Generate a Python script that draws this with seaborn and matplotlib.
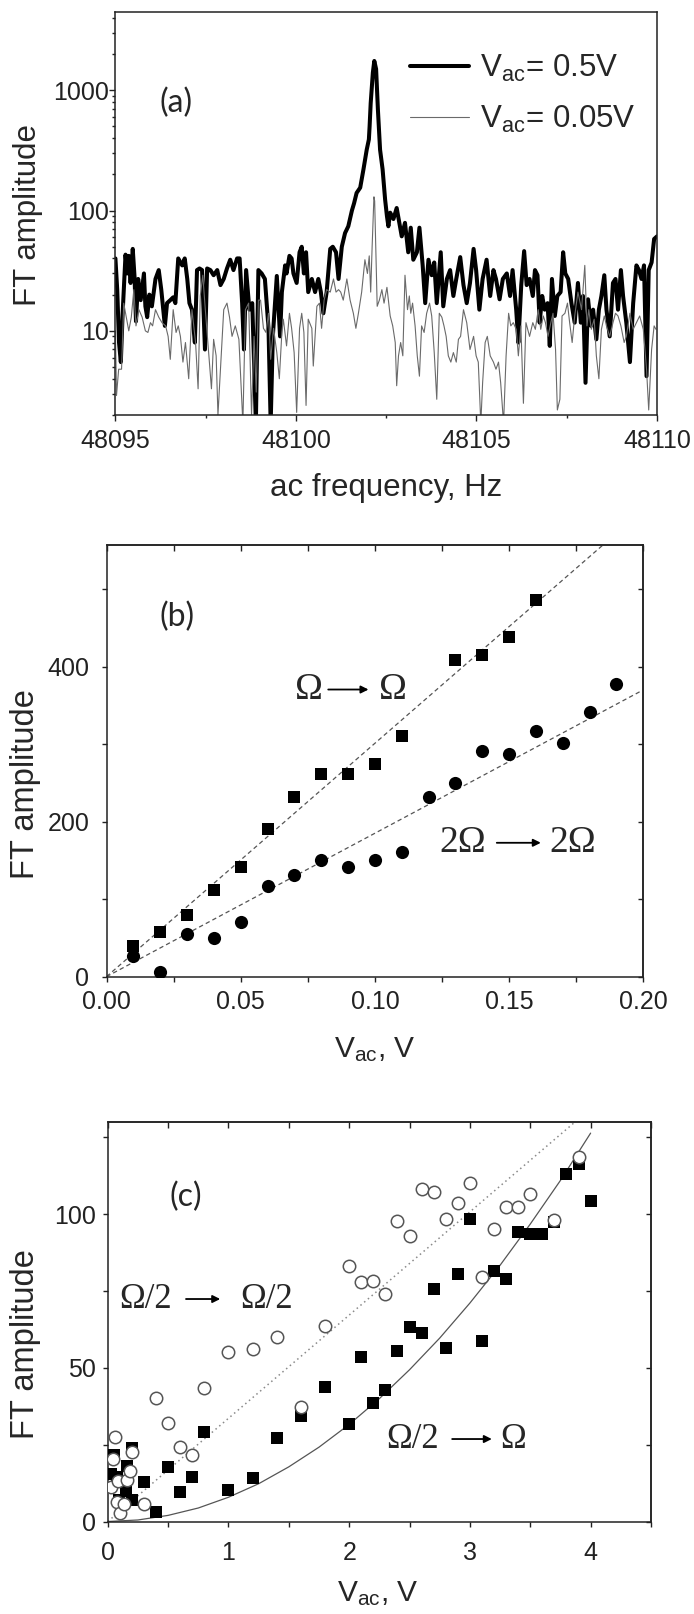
import matplotlib
matplotlib.use("Agg")
import matplotlib.pyplot as plt
import matplotlib.ticker as mticker
import numpy as np
import pandas as pd
import seaborn as sns

# ---------------- panel (a): FT spectra ----------------
freq_05 = [
    48095.00, 48095.05, 48095.10, 48095.15, 48095.20, 48095.28, 48095.33, 48095.37, 48095.42, 48095.48,
    48095.53, 48095.57, 48095.63, 48095.70, 48095.79, 48095.83, 48095.88, 48095.94, 48096.01, 48096.11,
    48096.20, 48096.27, 48096.37, 48096.43, 48096.52, 48096.60, 48096.66, 48096.74, 48096.85, 48096.92,
    48096.99, 48097.05, 48097.12, 48097.20, 48097.26, 48097.33, 48097.40, 48097.48, 48097.54, 48097.63,
    48097.72, 48097.82, 48097.91, 48098.00, 48098.09, 48098.18, 48098.27, 48098.37, 48098.44, 48098.51,
    48098.56, 48098.62, 48098.71, 48098.79, 48098.89, 48098.96, 48099.05, 48099.14, 48099.24, 48099.30,
    48099.36, 48099.47, 48099.56, 48099.61, 48099.70, 48099.74, 48099.82, 48099.88, 48099.93, 48100.02,
    48100.10, 48100.16, 48100.22, 48100.28, 48100.34, 48100.44, 48100.53, 48100.62, 48100.69, 48100.76,
    48100.85, 48100.95, 48101.02, 48101.11, 48101.18, 48101.27, 48101.36, 48101.45, 48101.55, 48101.61,
    48101.68, 48101.78, 48101.87, 48101.96, 48102.02, 48102.04, 48102.07, 48102.13, 48102.17, 48102.22,
    48102.27, 48102.33, 48102.40, 48102.47, 48102.52, 48102.56, 48102.61, 48102.70, 48102.79, 48102.87,
    48102.93, 48103.02, 48103.11, 48103.18, 48103.25, 48103.35, 48103.42, 48103.51, 48103.58, 48103.67,
    48103.76, 48103.83, 48103.90, 48104.01, 48104.08, 48104.18, 48104.27, 48104.36, 48104.44, 48104.55,
    48104.64, 48104.73, 48104.82, 48104.92, 48104.99, 48105.08, 48105.17, 48105.28, 48105.38, 48105.47,
    48105.54, 48105.64, 48105.73, 48105.84, 48105.93, 48106.00, 48106.10, 48106.16, 48106.24, 48106.32,
    48106.39, 48106.47, 48106.56, 48106.62, 48106.69, 48106.75, 48106.82, 48106.89, 48106.97, 48107.03,
    48107.09, 48107.17, 48107.24, 48107.33, 48107.40, 48107.46, 48107.54, 48107.63, 48107.72, 48107.81,
    48107.89, 48107.95, 48108.02, 48108.09, 48108.17, 48108.23, 48108.32, 48108.39, 48108.46, 48108.54,
    48108.60, 48108.69, 48108.78, 48108.85, 48108.92, 48109.00, 48109.06, 48109.15, 48109.25, 48109.34,
    48109.43, 48109.50, 48109.57, 48109.64, 48109.71, 48109.77, 48109.85, 48109.92, 48110.00,
]
amp_05 = [
    40, 22, 8, 5.5, 14, 43, 30, 42, 25, 48,
    28, 12, 27, 18, 30, 16, 13, 20, 16, 27,
    32, 22, 11, 17, 18, 19, 17, 40, 35, 40,
    27, 17, 15, 8, 32, 33, 32, 7, 33, 32,
    29, 32, 24, 27, 33, 39, 32, 40, 40, 17,
    7, 32, 15, 17, 1.7, 32, 30, 27, 10.5, 1.7,
    9, 28.6, 9, 21, 35, 30, 42, 40, 30, 25,
    45, 50, 30, 45, 21, 27, 21, 27, 21, 14,
    21, 48, 50, 45, 27, 50, 65, 74, 100, 115,
    140, 155, 220, 320, 390, 500, 780, 1400, 1750, 1500,
    690, 320, 220, 123, 90, 74, 96, 85, 105, 77,
    61, 79, 45, 72, 39, 45, 72, 35, 17, 39,
    29, 37, 17, 45, 16, 27, 32, 19.5, 27, 41,
    24, 17, 25, 48, 32, 15, 27, 39, 19.5, 32,
    27, 18.3, 27, 30, 19.5, 32, 15, 8, 24, 46,
    24, 27, 19.5, 32, 29, 11.7, 19.5, 15, 17, 7.5,
    27, 13.3, 19.5, 21, 45, 30, 27, 17, 11.7, 25,
    11.7, 19.5, 3.7, 18.3, 11, 15, 8.5, 15, 19.5, 29,
    15, 9, 25, 27, 15, 32, 19.5, 11.7, 5.5, 17,
    35, 32, 27, 35, 4.2, 32, 37, 58, 61,
]
freq_005 = [
    48095.00, 48095.03, 48095.09, 48095.17, 48095.23, 48095.30, 48095.37, 48095.44, 48095.51, 48095.57,
    48095.65, 48095.74, 48095.83, 48095.90, 48095.97, 48096.03, 48096.11, 48096.20, 48096.29, 48096.39,
    48096.46, 48096.52, 48096.60, 48096.68, 48096.74, 48096.80, 48096.87, 48096.94, 48097.03, 48097.12,
    48097.22, 48097.29, 48097.35, 48097.42, 48097.49, 48097.59, 48097.66, 48097.72, 48097.79, 48097.84,
    48097.91, 48098.00, 48098.09, 48098.16, 48098.23, 48098.32, 48098.42, 48098.53, 48098.60, 48098.69,
    48098.77, 48098.84, 48098.90, 48098.96, 48099.02, 48099.10, 48099.17, 48099.24, 48099.30, 48099.38,
    48099.47, 48099.54, 48099.61, 48099.65, 48099.74, 48099.82, 48099.88, 48099.95, 48100.02, 48100.10,
    48100.16, 48100.22, 48100.28, 48100.34, 48100.44, 48100.48, 48100.58, 48100.65, 48100.71, 48100.78,
    48100.85, 48100.95, 48101.04, 48101.11, 48101.18, 48101.24, 48101.31, 48101.41, 48101.50, 48101.59,
    48101.66, 48101.73, 48101.82, 48101.91, 48101.98, 48102.03, 48102.07, 48102.11, 48102.16, 48102.18,
    48102.21, 48102.25, 48102.31, 48102.38, 48102.44, 48102.52, 48102.61, 48102.68, 48102.75, 48102.79,
    48102.84, 48102.90, 48102.96, 48103.02, 48103.09, 48103.14, 48103.18, 48103.23, 48103.30, 48103.36,
    48103.42, 48103.48, 48103.55, 48103.62, 48103.70, 48103.76, 48103.83, 48103.90, 48103.97, 48104.04,
    48104.10, 48104.16, 48104.22, 48104.29, 48104.36, 48104.44, 48104.50, 48104.56, 48104.64, 48104.73,
    48104.82, 48104.92, 48104.99, 48105.05, 48105.12, 48105.17, 48105.24, 48105.30, 48105.38, 48105.47,
    48105.54, 48105.61, 48105.67, 48105.75, 48105.82, 48105.89, 48105.95, 48106.02, 48106.10, 48106.16,
    48106.23, 48106.30, 48106.37, 48106.47, 48106.56, 48106.63, 48106.71, 48106.78, 48106.85, 48106.91,
    48106.98, 48107.06, 48107.12, 48107.19, 48107.24, 48107.31, 48107.37, 48107.45, 48107.52, 48107.58,
    48107.65, 48107.72, 48107.81, 48107.91, 48108.00, 48108.06, 48108.11, 48108.18, 48108.26, 48108.32,
    48108.39, 48108.46, 48108.54, 48108.60, 48108.69, 48108.78, 48108.85, 48108.92, 48109.00, 48109.09,
    48109.15, 48109.25, 48109.34, 48109.43, 48109.52, 48109.62, 48109.71, 48109.77, 48109.85, 48109.92,
    48109.97,
]
amp_005 = [
    10, 2.9, 4.8, 4.8, 17, 13, 10, 13, 22, 11,
    15, 13, 10, 9.7, 11.7, 11, 15, 13, 11.7, 11,
    9, 5.8, 15, 9.7, 11, 9, 5.5, 8, 4, 15,
    8, 3.3, 19.5, 29, 15, 6.2, 3.3, 8.5, 6.2, 2.0,
    4.8, 15, 17, 13, 9, 11, 8.5, 1.7, 15, 17,
    2.0, 9, 3.1, 18, 18, 10.5, 9.7, 14, 5.8, 10.5,
    6.6, 4, 9.7, 12.5, 7.5, 14, 10.5, 6.6, 2.1, 10.5,
    14, 9.7, 2.4, 12.5, 10.5, 5.1, 16, 17, 10.5, 18,
    22, 21, 27, 21, 22, 21, 18, 27, 18, 14,
    10.5, 14, 21, 39, 30, 42, 21, 50, 130, 120,
    50, 16, 18, 22, 17, 23, 13.3, 11, 8, 3.5,
    6.2, 8, 6.2, 29, 15, 19.5, 14, 17, 11, 6.2,
    4.2, 11, 9.7, 14, 17, 13.3, 6.6, 2.7, 14, 13,
    11, 9, 6.2, 5.5, 6.6, 5.5, 8.5, 9, 15, 11.7,
    7, 9, 6.2, 5.5, 1.7, 3.7, 8, 9, 6.2, 5.5,
    4.8, 5.5, 3.7, 1.7, 6.2, 14, 11, 11.7, 10.3, 6.2,
    11, 2.5, 11.7, 9, 11.7, 10.3, 15, 10.3, 13.3, 11.7,
    9, 11.7, 14, 7, 2.2, 2.7, 13.3, 14, 17, 11.7,
    8, 13.3, 21, 15, 35, 11, 15, 10.3, 12.5, 6.2,
    4, 10.3, 13.3, 11, 9, 11.7, 14, 13.3, 11, 8,
    9, 14, 10.3, 11.7, 13.3, 10.3, 4.8, 2.2, 7, 11,
    10.3,
]
legend_labels_a = [r"V$_{ac}$= 0.5V", r"V$_{ac}$= 0.05V"]

# ---------------- panel (b) ----------------
vb_sq = [0.01, 0.02, 0.03, 0.04, 0.05, 0.06, 0.07, 0.08, 0.09, 0.10, 0.11, 0.13, 0.14, 0.15, 0.16]
ab_sq = [40, 58, 80, 112, 142, 191, 232, 261, 261, 274, 310, 409, 415, 438, 486]
vb_ci = [0.01, 0.02, 0.03, 0.04, 0.05, 0.06, 0.07, 0.08, 0.09, 0.10,
         0.11, 0.12, 0.13, 0.14, 0.15, 0.16, 0.17, 0.18, 0.19]
ab_ci = [26, 6.5, 55, 50, 71, 117, 131, 150, 142, 150,
         161, 232, 250, 291, 287, 317, 302, 341, 377]
fit1_x = [0.0, 0.185]
fit1_y = [0.0, 557]
fit2_x = [0.0, 0.20]
fit2_y = [0.0, 370]

# ---------------- panel (c) ----------------
vc_sq = [0.03, 0.05, 0.08, 0.09, 0.15, 0.16, 0.20, 0.20, 0.30, 0.40, 0.50, 0.60, 0.70, 0.80,
         1.0, 1.2, 1.4, 1.6, 1.8, 2.0, 2.1, 2.2, 2.3, 2.4, 2.5, 2.6, 2.7, 2.8, 2.9,
         3.0, 3.1, 3.2, 3.3, 3.4, 3.5, 3.6, 3.7, 3.8, 3.9, 4.0]
ac_sq = [15.5, 21.5, 14.5, 7.0, 10.0, 18.0, 24.0, 7.0, 12.7, 3.1, 17.6, 9.7, 14.4, 29.0,
         10.3, 14.2, 27.2, 34.3, 43.8, 31.6, 53.4, 38.7, 42.7, 55.6, 63.2, 61.5, 75.7, 56.6, 80.6,
         98.6, 58.6, 81.5, 78.8, 94.2, 93.7, 93.5, 97.5, 113.0, 116.3, 104.4]
vc_ci = [0.03, 0.047, 0.06, 0.08, 0.085, 0.10, 0.135, 0.16, 0.185, 0.20, 0.30, 0.40, 0.50, 0.60,
         0.70, 0.80, 1.0, 1.2, 1.4, 1.6, 1.8, 2.0, 2.1, 2.2, 2.3, 2.4, 2.5, 2.6, 2.7,
         2.8, 2.9, 3.0, 3.1, 3.2, 3.3, 3.4, 3.5, 3.7, 3.9]
ac_ci = [11.2, 20.4, 27.5, 6.3, 13.2, 2.9, 5.8, 13.5, 16.3, 22.7, 5.8, 40.3, 32.0, 24.4,
         21.8, 43.6, 55.3, 56.1, 60.1, 37.3, 63.7, 83.3, 77.9, 78.4, 74.1, 97.7, 92.8, 108.2, 107.1,
         98.4, 103.5, 110.2, 79.5, 95.3, 102.4, 102.2, 106.5, 98.0, 118.7]
# fitted curves
curve_sq_x = [0, 0.25, 0.5, 0.75, 1.0, 1.25, 1.5, 1.75, 2.0, 2.25, 2.5, 2.75, 3.0, 3.25, 3.5, 3.75, 4.0]
curve_sq_y = [0, 0.5, 2.0, 4.4, 7.9, 12.3, 17.8, 24.2, 31.6, 40.0, 49.4, 59.7, 71.1, 83.4, 96.8, 111.0, 126.4]
curve_ci_x = [0.0, 3.87]
curve_ci_y = [0.0, 130.0]

# ---------------- style ----------------
sns.set_style("ticks")
plt.rcParams["font.family"] = ["Liberation Sans", "DejaVu Sans"]
plt.rcParams["mathtext.default"] = "regular"
plt.rcParams["axes.linewidth"] = 1.1
plt.rcParams["axes.edgecolor"] = "#222222"
plt.rcParams["xtick.color"] = "#222222"
plt.rcParams["ytick.color"] = "#222222"
plt.rcParams["xtick.labelcolor"] = "#222222"
plt.rcParams["ytick.labelcolor"] = "#222222"

TICK_FS = 18
SERIF = ["Liberation Serif", "DejaVu Serif"]
PANEL_FONT = ["Lato", "Liberation Sans", "DejaVu Sans"]

fig = plt.figure(figsize=(6.94, 16.14), dpi=100)
fig.patch.set_facecolor("white")
axA = fig.add_axes([0.1663, 0.7429, 0.7804, 0.2499])
axB = fig.add_axes([0.1535, 0.3949, 0.7735, 0.2675])
axC = fig.add_axes([0.1553, 0.0573, 0.7827, 0.2475])

# ---------- (a) ----------
n1 = min(len(freq_05), len(amp_05))
n2 = min(len(freq_005), len(amp_005))
sns.lineplot(x=freq_05[:n1], y=amp_05[:n1], ax=axA, color="black", lw=2.9,
             estimator=None, sort=False, label=legend_labels_a[0])
sns.lineplot(x=freq_005[:n2], y=amp_005[:n2], ax=axA, color="#6a6a6a", lw=0.8,
             estimator=None, sort=False, label=legend_labels_a[1])
axA.set_yscale("log")
axA.set_xlim(48095, 48110)
axA.set_ylim(2, 4500)
axA.xaxis.set_major_locator(mticker.MultipleLocator(5))
axA.xaxis.set_minor_locator(mticker.MultipleLocator(2.5))
axA.xaxis.set_major_formatter(mticker.FuncFormatter(lambda v, p: f"{v:.0f}"))
axA.yaxis.set_major_locator(mticker.LogLocator(base=10))
axA.yaxis.set_minor_locator(mticker.LogLocator(base=10, subs=np.arange(2, 10)))
axA.yaxis.set_major_formatter(mticker.FuncFormatter(lambda v, p: f"{v:g}"))
axA.yaxis.set_minor_formatter(mticker.NullFormatter())
axA.tick_params(which="both", direction="out", top=False, right=False, width=1.0, labelsize=TICK_FS)
axA.tick_params(which="major", length=4)
axA.tick_params(which="minor", length=2.5)
axA.tick_params(axis="y", pad=0.5)
axA.tick_params(axis="x", pad=6)
axA.set_xlabel("ac frequency, Hz", fontsize=22.5, va="center")
axA.set_ylabel("FT amplitude", fontsize=22.5, va="center")
axA.xaxis.set_label_coords(0.5, -0.181)
axA.yaxis.set_label_coords(-0.162, 0.496)
axA.text(0.112, 0.774, "(a)", transform=axA.transAxes, fontsize=23, family=PANEL_FONT,
         ha="center", va="center")
leg = axA.legend(loc="upper left", bbox_to_anchor=(0.544, 0.897), frameon=False,
                 fontsize=22.5, handlelength=1.9, handletextpad=0.33, labelspacing=0.62,
                 borderpad=0, borderaxespad=0)


def mirror_ticks(ax, xmaj, xmin, ymaj, ymin):
    ax.xaxis.set_major_locator(mticker.MultipleLocator(xmaj))
    ax.xaxis.set_minor_locator(mticker.MultipleLocator(xmin))
    ax.yaxis.set_major_locator(mticker.MultipleLocator(ymaj))
    ax.yaxis.set_minor_locator(mticker.MultipleLocator(ymin))
    ax.tick_params(which="both", direction="out", top=False, right=False, width=1.0,
                   length=3.8, labelsize=TICK_FS)
    sx = ax.secondary_xaxis("top")
    sx.xaxis.set_major_locator(mticker.MultipleLocator(xmaj))
    sx.xaxis.set_minor_locator(mticker.MultipleLocator(xmin))
    sx.tick_params(which="both", direction="in", length=4.5, width=1.0, labeltop=False)
    sy = ax.secondary_yaxis("right")
    sy.yaxis.set_major_locator(mticker.MultipleLocator(ymaj))
    sy.yaxis.set_minor_locator(mticker.MultipleLocator(ymin))
    sy.tick_params(which="both", direction="in", length=3.5, width=1.0, labelright=False)


# ---------- (b) ----------
sns.lineplot(x=fit1_x, y=fit1_y, ax=axB, color="#555555", lw=0.9, estimator=None, sort=False)
axB.lines[-1].set_dashes([3.5, 2.5])
sns.lineplot(x=fit2_x, y=fit2_y, ax=axB, color="#555555", lw=0.9, estimator=None, sort=False)
axB.lines[-1].set_dashes([3.5, 2.5])
sns.scatterplot(x=vb_sq, y=ab_sq, ax=axB, marker="s", s=70, color="black", linewidth=0, zorder=3)
sns.scatterplot(x=vb_ci, y=ab_ci, ax=axB, marker="o", s=90, color="black", linewidth=0, zorder=3)
axB.set_xlim(0, 0.2)
axB.set_ylim(0, 557)
mirror_ticks(axB, 0.05, 0.025, 200, 100)
axB.xaxis.set_major_formatter(mticker.FuncFormatter(lambda v, p: f"{v:.2f}"))
axB.tick_params(axis="y", pad=8.5)
axB.tick_params(axis="x", pad=6)
axB.set_xlabel(r"V$_{ac}$, V", fontsize=21.5, va="center")
axB.set_ylabel("FT amplitude", fontsize=23.5, va="center")
axB.xaxis.set_label_coords(0.5, -0.17)
axB.yaxis.set_label_coords(-0.151, 0.446)
axB.text(0.131, 0.833, "(b)", transform=axB.transAxes, fontsize=23, family=PANEL_FONT,
         ha="center", va="center")


def omega_label(ax, left, right, xl, xr, x0, x1, y, fs=25):
    ax.text(xl, y, left, transform=ax.transAxes, fontsize=fs, family=SERIF, ha="center", va="center")
    ax.text(xr, y, right, transform=ax.transAxes, fontsize=fs, family=SERIF, ha="center", va="center")
    ax.annotate("", xy=(x1, y), xytext=(x0, y), xycoords="axes fraction", textcoords="axes fraction",
                arrowprops=dict(arrowstyle="-|>", color="black", lw=1.3, mutation_scale=11,
                                shrinkA=0, shrinkB=0))


omega_label(axB, "\u03a9", "\u03a9", 0.377, 0.533, 0.413, 0.488, 0.665, fs=27)
omega_label(axB, "2\u03a9", "2\u03a9", 0.663, 0.868, 0.727, 0.809, 0.310, fs=27)

# ---------- (c) ----------
sns.lineplot(x=curve_ci_x, y=curve_ci_y, ax=axC, color="#8a8a8a", lw=1.1, estimator=None, sort=False)
axC.lines[-1].set_dashes([1.0, 2.2])
sns.lineplot(x=curve_sq_x, y=curve_sq_y, ax=axC, color="#555555", lw=0.9, estimator=None, sort=False)
sns.scatterplot(x=vc_sq, y=ac_sq, ax=axC, marker="s", s=75, color="black", linewidth=0, zorder=3)
sns.scatterplot(x=vc_ci, y=ac_ci, ax=axC, marker="o", s=80, color="white", edgecolor="#555555",
                linewidth=1.1, zorder=4)
axC.set_xlim(0, 4.5)
axC.set_ylim(0, 130)
mirror_ticks(axC, 1, 0.5, 50, 25)
axC.tick_params(axis="y", pad=5)
axC.tick_params(axis="x", pad=10)
axC.set_xlabel(r"V$_{ac}$, V", fontsize=21.5, va="center")
axC.set_ylabel("FT amplitude", fontsize=23.5, va="center")
axC.xaxis.set_label_coords(0.497, -0.18)
axC.yaxis.set_label_coords(-0.1515, 0.444)
axC.text(0.144, 0.812, "(c)", transform=axC.transAxes, fontsize=23, family=PANEL_FONT,
         ha="center", va="center")
omega_label(axC, "\u03a9/2", "\u03a9/2", 0.069, 0.292, 0.144, 0.207, 0.557, fs=25)
omega_label(axC, "\u03a9/2", "\u03a9", 0.561, 0.747, 0.634, 0.707, 0.2065, fs=25)

fig.savefig("out.png", dpi=100, facecolor="white")
